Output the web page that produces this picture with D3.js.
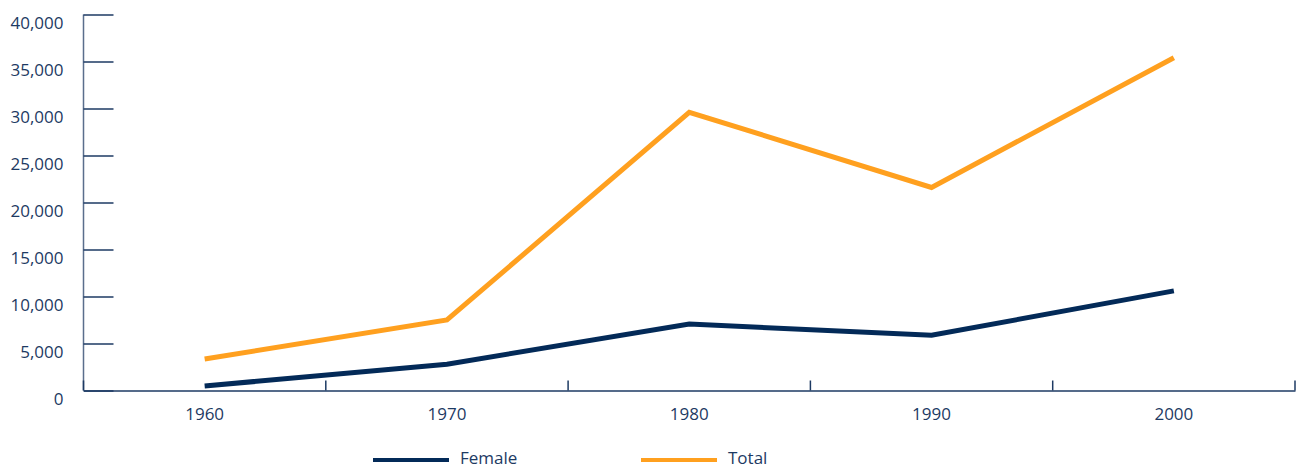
<!DOCTYPE html>
<html lang="en">
<head>
<meta charset="utf-8" />
<title>Female and total</title>
<script src="https://d3js.org/d3.v7.min.js"></script>
<style>
  body { margin: 0; background: #fff; }
  svg { display: block; font-family: "Open Sans", sans-serif; }
  .tick text { fill: #1d3a63; font-size: 17px; font-family: "Open Sans", sans-serif; }
</style>
</head>
<body>
<svg width="1296" height="468"></svg>
<script>
// data
var years = ["1960", "1970", "1980", "1990", "2000"];
var female = [480, 2800, 7070, 5870, 10600];
var total = [3350, 7500, 29600, 21600, 35400];
var yTicks = [0, 5000, 10000, 15000, 20000, 25000, 30000, 35000, 40000];
var seriesNames = ["Female", "Total"];
var seriesColors = ["#032a58", "#ffa01f"];

var svg = d3.select("svg"),
    margin = {top: 14.5, right: 1, bottom: 77.5, left: 83.5},
    width = 1296 - margin.left - margin.right,
    height = 468 - margin.top - margin.bottom;

var x = d3.scaleBand().domain(years).range([0, width]);
var y = d3.scaleLinear().domain([0, 40000]).range([height, 0]);

var g = svg.append("g")
    .attr("transform", "translate(" + margin.left + "," + margin.top + ")");

// y axis: ticks point into the plot, labels sit a bit below each tick
var yAxis = g.append("g")
    .call(d3.axisLeft(y).tickValues(yTicks).tickSize(-30).tickPadding(20)
      .tickFormat(d3.format(",")));
yAxis.attr("font-family", null);
yAxis.select(".domain").attr("stroke", "#5a6e8c").attr("stroke-width", 1.5)
    .attr("d", "M0," + height + "V0");
yAxis.selectAll(".tick line").attr("stroke", "#1d3a63").attr("stroke-width", 1.5);
yAxis.selectAll(".tick text").attr("text-anchor", "end").attr("dy", "0.83em");

// x axis: ticks at band edges, pointing up
var xAxis = g.append("g")
    .attr("transform", "translate(0," + height + ")")
    .call(d3.axisBottom(x).tickSize(0).tickPadding(17));
xAxis.attr("font-family", null);
xAxis.select(".domain").attr("stroke", "#1d3a63").attr("stroke-width", 1.5);

var edges = years.map(function(d) { return x(d); }).concat([width]);
g.append("g").selectAll("line").data(edges).enter().append("line")
    .attr("x1", function(d) { return d; })
    .attr("x2", function(d) { return d; })
    .attr("y1", height - 10)
    .attr("y2", height)
    .attr("stroke", "#1d3a63")
    .attr("stroke-width", 1.5);

var line = d3.line()
    .x(function(d, i) { return x(years[i]) + x.bandwidth() / 2; })
    .y(function(d) { return y(d); });

[female, total].forEach(function(s, i) {
  g.append("path")
      .datum(s)
      .attr("fill", "none")
      .attr("stroke", seriesColors[i])
      .attr("stroke-width", 5)
      .attr("d", line);
});

// legend
var legendX = [373, 641];
var legend = svg.append("g").selectAll("g").data(seriesNames).enter().append("g")
    .attr("transform", function(d, i) { return "translate(" + legendX[i] + ",460)"; });
legend.append("line")
    .attr("x1", 0).attr("x2", 76)
    .attr("stroke", function(d, i) { return seriesColors[i]; })
    .attr("stroke-width", 4);
legend.append("text")
    .attr("x", 87)
    .attr("y", 4)
    .attr("fill", "#1d3a63")
    .style("font-size", "17px")
    .text(function(d) { return d; });
</script>
</body>
</html>
